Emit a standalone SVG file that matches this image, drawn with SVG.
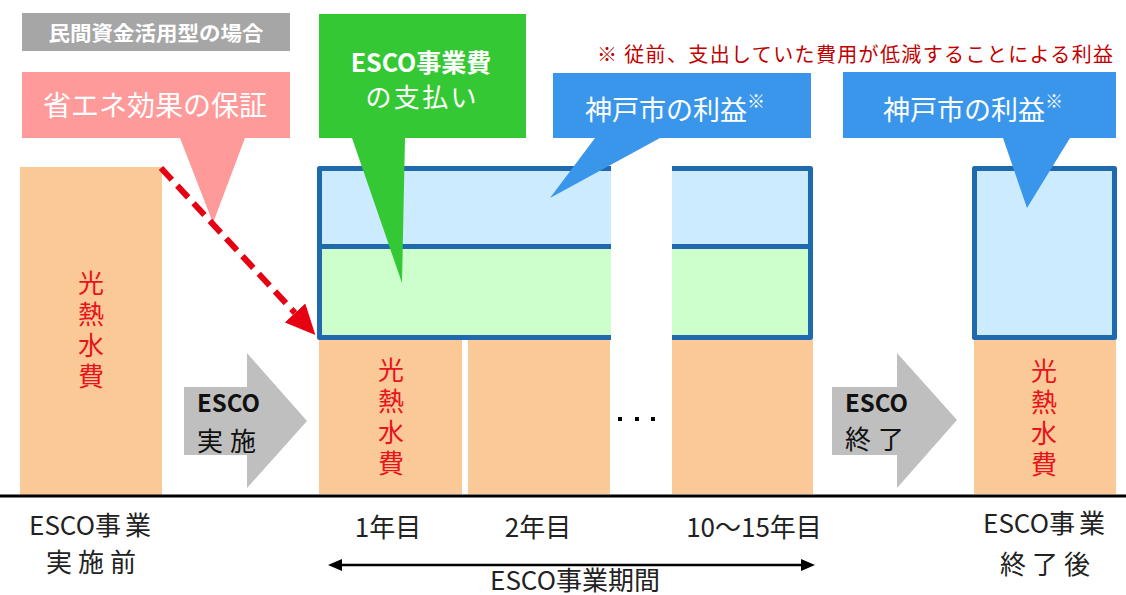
<svg xmlns="http://www.w3.org/2000/svg" width="1126" height="595" viewBox="0 0 1126 595">
<defs>
<style>
text{font-family:"Noto Sans CJK JP","Noto Sans",sans-serif;dominant-baseline:central}
.bar{fill:#FBC898}
.frame{fill:none;stroke:#1F6AAE;stroke-width:5;stroke-linejoin:round}
.red{fill:#E8141B;font-size:26px;writing-mode:vertical-rl;letter-spacing:5px}
.white{fill:#FFFFFF}
.lbl{fill:#222;font-size:26px;text-anchor:middle}
.garrow{fill:#BFBFBF}
.esco{fill:#111;font-size:24px;font-weight:bold}
.act{fill:#111;font-size:26px;letter-spacing:7px}
</style>
<marker id="redhead" markerUnits="userSpaceOnUse" markerWidth="30" markerHeight="28" refX="0" refY="14" orient="auto" viewBox="0 0 30 28">
<path d="M0,0 L30,14 L0,28 z" fill="#E60012"/>
</marker>
<marker id="blackhead" markerUnits="userSpaceOnUse" markerWidth="14" markerHeight="12" refX="0" refY="6" orient="auto-start-reverse" viewBox="0 0 14 12">
<path d="M0,0 L14,6 L0,12 z" fill="#000"/>
</marker>
</defs>
<rect width="1126" height="595" fill="#FFFFFF"/>

<g id="before-bar">
<rect class="bar" x="20" y="167" width="142" height="328"/>
<text class="red" x="91" y="270">光熱水費</text>
</g>

<g id="period-frame">
<rect x="319.5" y="168.5" width="491" height="78" fill="#CDEBFE"/>
<rect x="319.5" y="246.5" width="491" height="91" fill="#CCFFCC"/>
<rect class="frame" x="319.5" y="168.5" width="491" height="169"/>
<line x1="319.5" y1="246.5" x2="810.5" y2="246.5" stroke="#1F6AAE" stroke-width="5"/>
<rect x="611" y="160" width="61" height="190" fill="#FFFFFF"/>
</g>

<g id="year1-bar">
<rect class="bar" x="319" y="340" width="143" height="154"/>
<text class="red" x="391" y="357">光熱水費</text>
</g>
<g id="year2-bar">
<rect class="bar" x="468" y="340" width="142" height="154"/>
</g>
<g id="ellipsis">
<rect x="618" y="417" width="4" height="4" fill="#000"/>
<rect x="635" y="417" width="4" height="4" fill="#000"/>
<rect x="651" y="417" width="4" height="4" fill="#000"/>
</g>
<g id="yearN-bar">
<rect class="bar" x="672" y="340" width="141" height="154"/>
</g>

<g id="after-frame">
<rect x="974.5" y="168.5" width="140" height="169" fill="#CDEBFE"/>
<rect class="frame" x="974.5" y="168.5" width="140" height="169"/>
</g>
<g id="after-bar">
<rect class="bar" x="974" y="340" width="142" height="154"/>
<text class="red" x="1044" y="358" letter-spacing="4">光熱水費</text>
</g>

<g id="title-label">
<rect x="22" y="13" width="268" height="38" fill="#A6A6A6"/>
<text class="white" x="156" y="32" font-size="20" font-weight="bold" text-anchor="middle" textLength="215" lengthAdjust="spacingAndGlyphs">民間資金活用型の場合</text>
</g>

<g id="callout-guarantee">
<path d="M22,72 H290 V138 H245 L213,223 L180,138 H22 Z" fill="#FE9A9A"/>
<text class="white" x="155" y="104" font-size="28" text-anchor="middle" textLength="224" lengthAdjust="spacing">省エネ効果の保証</text>
</g>

<g id="callout-payment">
<path d="M319,14 H526 V138 H405 L402,283 L352,138 H319 Z" fill="#34C934"/>
<text class="white" x="421" y="61" font-size="25" font-weight="bold" text-anchor="middle">ESCO事業費</text>
<text class="white" x="421" y="95" font-size="26" text-anchor="middle" textLength="111" lengthAdjust="spacing">の支払い</text>
</g>

<g id="callout-benefit1">
<path d="M553,73 H811 V138 H660 L550,198 L595,138 H553 Z" fill="#3A96EA"/>
<text class="white" x="585" y="108" font-size="27">神戸市の利益<tspan font-size="18" dy="-8">※</tspan></text>
</g>

<g id="callout-benefit2">
<path d="M843,72 H1116 V138 H1070 L1027,208 L1003,138 H843 Z" fill="#3A96EA"/>
<text class="white" x="883" y="108" font-size="27">神戸市の利益<tspan font-size="18" dy="-8">※</tspan></text>
</g>

<g id="note">
<text x="1113" y="53" font-size="20" fill="#C00000" text-anchor="end" textLength="516" lengthAdjust="spacing">※ 従前、支出していた費用が低減することによる利益</text>
</g>

<g id="connectors">
<line x1="161" y1="168" x2="295" y2="313" stroke="#E60012" stroke-width="6" stroke-dasharray="16 8" marker-end="url(#redhead)"/>
<line x1="0" y1="496" x2="1126" y2="496" stroke="#000" stroke-width="3"/>
<line x1="342" y1="565" x2="801" y2="565" stroke="#000" stroke-width="2.5" marker-start="url(#blackhead)" marker-end="url(#blackhead)"/>
</g>

<g id="arrow-start">
<polygon class="garrow" points="184,387 247,387 247,353 307,421 247,488 247,455 184,455"/>
<text class="esco" x="197" y="401">ESCO</text>
<text class="act" x="197" y="439">実施</text>
</g>

<g id="arrow-end">
<polygon class="garrow" points="832,387 897,387 897,353 957,420 897,488 897,455 832,455"/>
<text class="esco" x="845" y="401">ESCO</text>
<text class="act" x="845" y="437" letter-spacing="3">終了</text>
</g>

<g id="labels">
<text class="lbl" x="92" y="523">ESCO<tspan letter-spacing="4">事業</tspan></text>
<text class="lbl" x="94" y="560" letter-spacing="6">実施前</text>
<text class="lbl" x="388" y="525">1年目</text>
<text class="lbl" x="538" y="525">2年目</text>
<text class="lbl" x="754" y="525">10～15年目</text>
<text class="lbl" x="575" y="578" font-size="25">ESCO事業期間</text>
<text class="lbl" x="1046" y="521">ESCO<tspan letter-spacing="4">事業</tspan></text>
<text class="lbl" x="1048" y="562" letter-spacing="6">終了後</text>
</g>
</svg>
